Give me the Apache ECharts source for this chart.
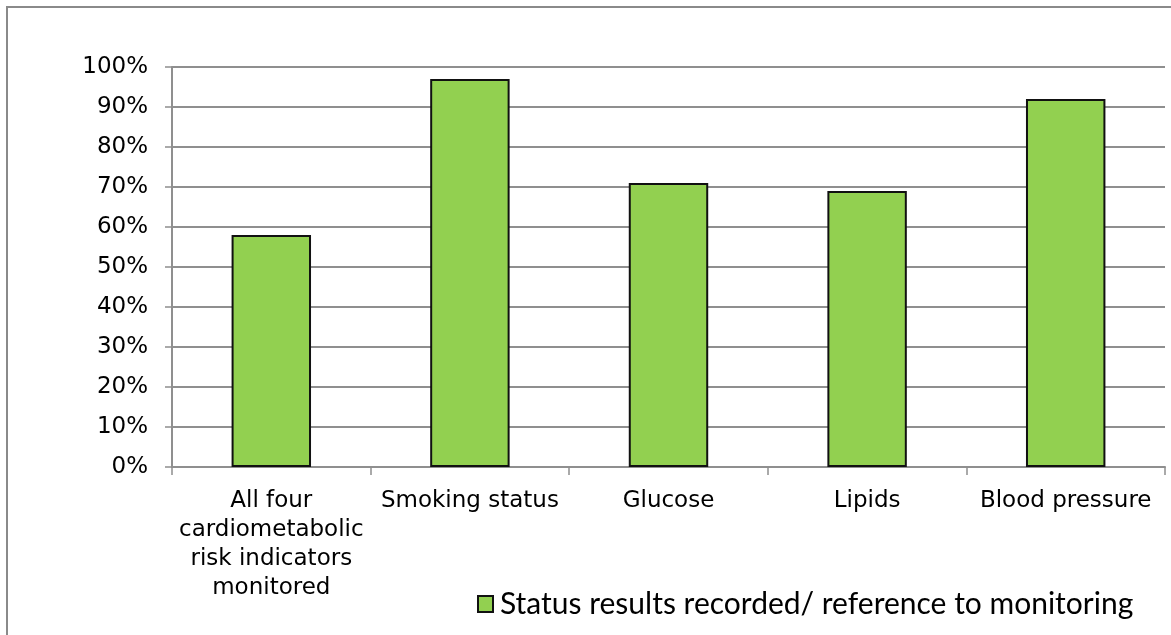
<!DOCTYPE html>
<html>
<head>
<meta charset="utf-8">
<style>
html,body{margin:0;padding:0;background:#fff;}
#chart{width:1171px;height:635px;}
</style>
<script src="https://cdn.jsdelivr.net/npm/echarts@6/dist/echarts.min.js"></script>
</head>
<body>
<div id="chart"></div>
<script>
var categories = ['All four\ncardiometabolic\nrisk indicators\nmonitored', 'Smoking status', 'Glucose', 'Lipids', 'Blood pressure'];
var seriesName = 'Status results recorded/ reference to monitoring';
var values = [58, 97, 71, 69, 92];
var yTicks = [0, 10, 20, 30, 40, 50, 60, 70, 80, 90, 100];

var chart = echarts.init(document.getElementById('chart'), null, {renderer: 'canvas'});
var font = 'DejaVu Sans';
var gridColor = '#8f8f8f';
chart.setOption({
  animation: false,
  backgroundColor: '#fff',
  graphic: [{
    type: 'rect', z: -10,
    shape: {x: 7, y: 7, width: 1250, height: 700},
    style: {fill: 'none', stroke: '#8a8a8a', lineWidth: 2}
  }],
  grid: {left: 172, right: 6, top: 67, bottom: 168, containLabel: false},
  legend: {
    left: 477, top: 589, padding: 0,
    itemWidth: 15, itemHeight: 16, itemGap: 6,
    icon: 'rect',
    itemStyle: {color: '#92D050', borderColor: '#111', borderWidth: 2},
    textStyle: {fontFamily: 'Lato', fontSize: 30, color: '#000', padding: [0,0,0,2]},
    data: [seriesName]
  },
  xAxis: {
    type: 'category',
    data: categories,
    axisLine: {show: true, lineStyle: {color: gridColor, width: 2}},
    axisTick: {show: true, length: 8, lineStyle: {color: gridColor, width: 1.5}},
    axisLabel: {
      fontFamily: font, fontSize: 23, color: '#000', lineHeight: 29, margin: 20, interval: 0
    }
  },
  yAxis: {
    type: 'value',
    min: yTicks[0], max: yTicks[yTicks.length - 1], interval: 10,
    axisLine: {show: true, lineStyle: {color: gridColor, width: 2}},
    axisTick: {show: true, length: 7, lineStyle: {color: gridColor, width: 1.5}},
    splitLine: {show: true, lineStyle: {color: gridColor, width: 2}},
    axisLabel: {
      fontFamily: font, fontSize: 23, color: '#000', margin: 24,
      formatter: function (v) { return v + '%'; }
    }
  },
  series: [{
    name: seriesName,
    type: 'bar',
    data: values,
    barWidth: '40%',
    itemStyle: {color: '#92D050', borderColor: '#111', borderWidth: 2}
  }]
});
</script>
</body>
</html>
